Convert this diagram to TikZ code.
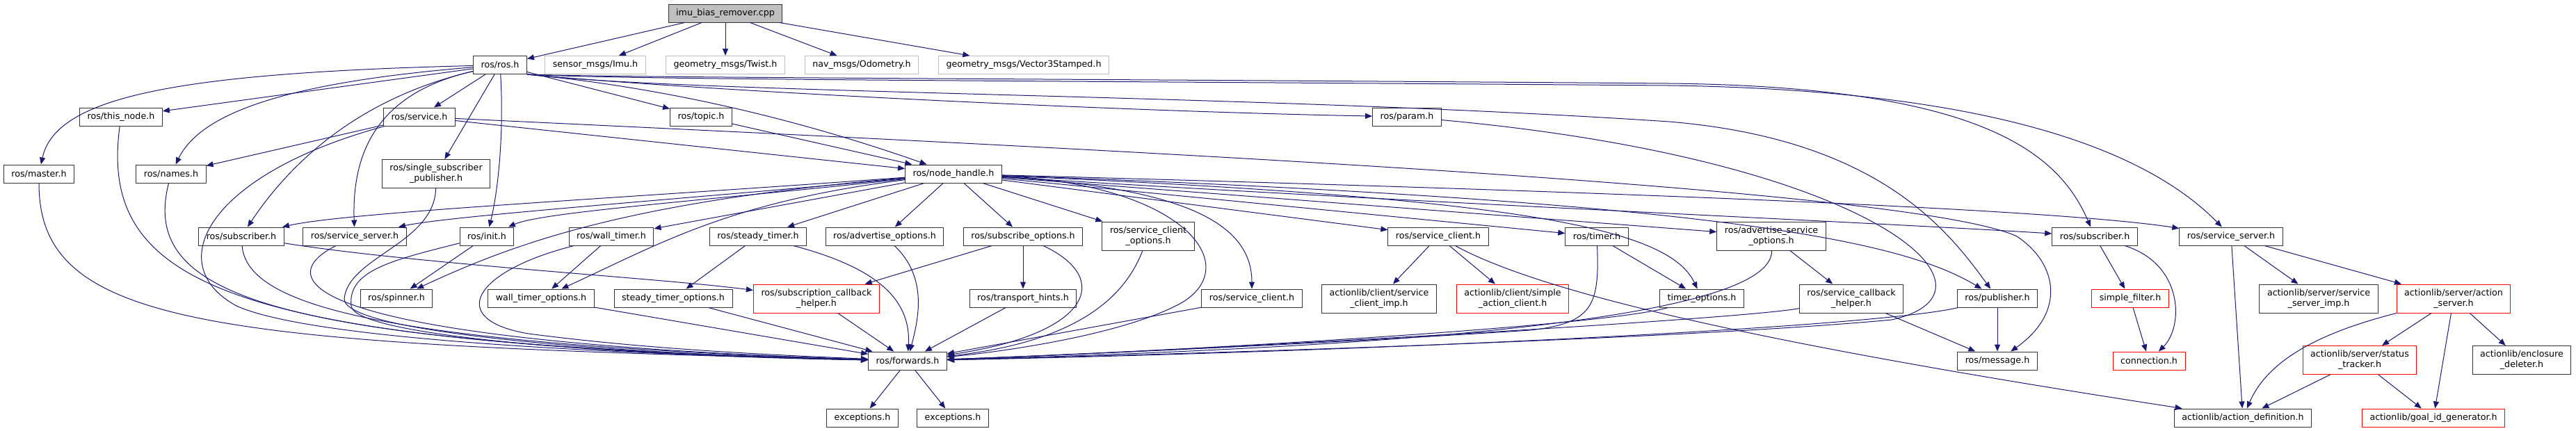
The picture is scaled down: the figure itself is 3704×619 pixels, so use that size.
\documentclass[tikz,border=0pt]{standalone}
\usepackage{fontspec}
\setmainfont{DejaVu Sans}
\usepackage{xcolor}
\usepackage{tikz}
\usetikzlibrary{arrows.meta,positioning}
\definecolor{edgeblue}{HTML}{191970}
\definecolor{extgray}{HTML}{BFBFBF}
\tikzset{
  hdr/.style={draw=black!80,line width=0.75pt,fill=white,inner xsep=8.3pt,inner ysep=0pt,
    minimum height=19.5pt,font=\fontsize{9.5}{11.25}\selectfont,align=center},
  hdrtwo/.style={hdr,minimum height=30.75pt},
  ext/.style={hdr,draw=extgray},
  trunc/.style={hdr,draw=red},
  trunctwo/.style={hdrtwo,draw=red},
  rootfile/.style={hdr,fill=extgray},
  dep/.style={draw=edgeblue,line width=0.75pt,-{Triangle[length=7.5pt,width=6pt]}},
}

\begin{document}
\begin{tikzpicture}[x=0.75pt,y=-0.75pt]
\useasboundingbox (0,0) rectangle (3704,619);
% Source file
\node[rootfile] (root) at (1043,19) {imu\_bias\_remover.cpp};
% Direct includes
\node[hdr] (rosros) at (719,93.5) {ros/ros.h};
\node[ext] (imu) at (856,93.5) {sensor\_msgs/Imu.h};
\node[ext] (twist) at (1043,93.5) {geometry\_msgs/Twist.h};
\node[ext] (odom) at (1239,93.5) {nav\_msgs/Odometry.h};
\node[ext] (vec3) at (1472,93.5) {geometry\_msgs/Vector3Stamped.h};
% Headers of ros/ros.h
\node[hdr] (thisnode) at (174,168) {ros/this\_node.h};
\node[hdr] (service) at (603,168) {ros/service.h};
\node[hdr] (topic) at (1008,168) {ros/topic.h};
\node[hdr] (param) at (2023,168) {ros/param.h};
\node[hdr] (master) at (56,250) {ros/master.h};
\node[hdr] (names) at (246,250) {ros/names.h};
\node[hdrtwo] (ssp) at (627,250) {ros/single\_subscriber\\\_publisher.h};
\node[hdr] (nh) at (1371,250) {ros/node\_handle.h};
% Headers of ros/node_handle.h
\node[hdr] (subL) at (347,340) {ros/subscriber.h};
\node[hdr] (ssL) at (510,340) {ros/service\_server.h};
\node[hdr] (init) at (700,340) {ros/init.h};
\node[hdr] (walltimer) at (879,340) {ros/wall\_timer.h};
\node[hdr] (steadytimer) at (1090,340) {ros/steady\_timer.h};
\node[hdr] (advopt) at (1272,340) {ros/advertise\_options.h};
\node[hdr] (subopt) at (1471,340) {ros/subscribe\_options.h};
\node[hdrtwo] (scopt) at (1651,339.5) {ros/service\_client\\\_options.h};
\node[hdr] (scR) at (2068,340) {ros/service\_client.h};
\node[hdr] (timer) at (2296,340) {ros/timer.h};
\node[hdrtwo] (asopt) at (2547,339.5) {ros/advertise\_service\\\_options.h};
\node[hdr] (subR) at (3012,340) {ros/subscriber.h};
\node[hdr] (ssR) at (3208,340) {ros/service\_server.h};
% Next level
\node[hdr] (spinner) at (570,429) {ros/spinner.h};
\node[hdr] (wtopt) at (778,429) {wall\_timer\_options.h};
\node[hdr] (stopt) at (968,429) {steady\_timer\_options.h};
\node[trunctwo] (sch) at (1174,429.5) {ros/subscription\_callback\\\_helper.h};
\node[hdr] (hints) at (1471,429) {ros/transport\_hints.h};
\node[hdr] (scL) at (1800,429) {ros/service\_client.h};
\node[hdrtwo] (scimp) at (1983,429.5) {actionlib/client/service\\\_client\_imp.h};
\node[trunctwo] (sac) at (2175,429.5) {actionlib/client/simple\\\_action\_client.h};
\node[hdr] (topt) at (2447,429) {timer\_options.h};
\node[hdrtwo] (sch2) at (2662,429.5) {ros/service\_callback\\\_helper.h};
\node[hdr] (pub) at (2872,429) {ros/publisher.h};
\node[trunc] (sfilter) at (3063,429) {simple\_filter.h};
\node[hdrtwo] (ssimp) at (3334,429.5) {actionlib/server/service\\\_server\_imp.h};
\node[trunctwo] (aserver) at (3528,429.5) {actionlib/server/action\\\_server.h};
% Bottom levels
\node[hdr] (fwd) at (1305,519) {ros/forwards.h};
\node[hdr] (msg) at (2872,519) {ros/message.h};
\node[trunc] (conn) at (3090,519) {connection.h};
\node[trunctwo] (strack) at (3393,518) {actionlib/server/status\\\_tracker.h};
\node[hdrtwo] (encdel) at (3626,518) {actionlib/enclosure\\\_deleter.h};
\node[hdr] (exca) at (1240,601) {exceptions.h};
\node[hdr] (excb) at (1370,601) {exceptions.h};
\node[hdr] (adef) at (3225,601) {actionlib/action\_definition.h};
\node[trunc] (goalid) at (3499,601) {actionlib/goal\_id\_generator.h};

% Includes of the source file
\draw[dep] (root) -- (rosros);
\draw[dep] (root) -- (imu);
\draw[dep] (root) -- (twist);
\draw[dep] (root) -- (odom);
\draw[dep] (root) -- (vec3);
% ros/ros.h
\draw[dep] (rosros) -- (thisnode);
\draw[dep] (rosros) .. controls (250,105) and (80,140) .. (master);
\draw[dep] (rosros) .. controls (420,118) and (290,160) .. (names);
\draw[dep] (rosros) .. controls (520,140) and (420,230) .. (subL);
\draw[dep] (rosros) .. controls (560,130) and (505,200) .. (ssL);
\draw[dep] (rosros) -- (service);
\draw[dep] (rosros) -- (ssp);
\draw[dep] (rosros) .. controls (725,200) and (715,280) .. (init);
\draw[dep] (rosros) -- (topic);
\draw[dep] (rosros.south east) .. controls (1000,130) and (1200,190) .. (nh);
\draw[dep] (rosros.south east) .. controls (1000,130) and (1600,160) .. (param);
\draw[dep] (rosros.south east) .. controls (1000,135) and (1800,135) .. (2400,175) .. controls (2700,200) and (2800,330) .. (pub);
\draw[dep] (rosros.south east) .. controls (900,112) and (1500,113) .. (2400,120) .. controls (2850,125) and (2960,220) .. (subR);
\draw[dep] (rosros.south east) .. controls (900,115) and (1500,116) .. (2400,123) .. controls (2900,130) and (3100,230) .. (ssR);
% ros/service.h, ros/topic.h
\draw[dep] (service) -- (names);
\draw[dep] (service) -- (nh);
\draw[dep] (service) .. controls (1600,215) and (2750,270) .. (2900,340) .. controls (2960,380) and (2970,450) .. (msg);
\draw[dep] (topic) -- (nh);
% ros/node_handle.h
\draw[dep] (nh) .. controls (900,285) and (500,305) .. (subL);
\draw[dep] (nh) .. controls (1000,285) and (650,310) .. (ssL);
\draw[dep] (nh) .. controls (1000,290) and (780,305) .. (init);
\draw[dep] (nh) .. controls (900,290) and (740,350) .. (spinner);
\draw[dep] (nh) -- (walltimer);
\draw[dep] (nh) .. controls (1050,290) and (950,350) .. (wtopt);
\draw[dep] (nh) -- (steadytimer);
\draw[dep] (nh) -- (advopt);
\draw[dep] (nh) -- (subopt);
\draw[dep] (nh) -- (scopt);
\draw[dep] (nh) .. controls (1700,270) and (1800,320) .. (scL);
\draw[dep] (nh) -- (scR);
\draw[dep] (nh) -- (timer);
\draw[dep] (nh) .. controls (2200,285) and (2400,330) .. (topt);
\draw[dep] (nh) -- (asopt);
\draw[dep] (nh) .. controls (2500,290) and (2740,350) .. (pub);
\draw[dep] (nh) .. controls (2000,290) and (2700,320) .. (subR);
\draw[dep] (nh) .. controls (2300,275) and (2950,300) .. (ssR);
% Everything that ends in ros/forwards.h
\draw[dep] (master) .. controls (56,470) and (300,495) .. (fwd);
\draw[dep] (thisnode) .. controls (140,420) and (350,495) .. (fwd);
\draw[dep] (names) .. controls (200,430) and (400,495) .. (fwd);
\draw[dep] (service) .. controls (300,250) and (230,380) .. (340,440) .. controls (450,490) and (900,510) .. (fwd);
\draw[dep] (subL) .. controls (355,440) and (550,495) .. (fwd);
\draw[dep] (ssL) .. controls (390,400) and (420,490) .. (fwd);
\draw[dep] (ssp) .. controls (625,350) and (500,370) .. (495,430) .. controls (495,480) and (900,510) .. (fwd);
\draw[dep] (init) .. controls (560,375) and (500,390) .. (505,440) .. controls (510,485) and (900,512) .. (fwd);
\draw[dep] (walltimer) .. controls (680,390) and (640,460) .. (760,480) .. controls (950,505) and (1150,512) .. (fwd);
\draw[dep] (wtopt) -- (fwd);
\draw[dep] (stopt) -- (fwd);
\draw[dep] (steadytimer) .. controls (1260,385) and (1310,430) .. (fwd);
\draw[dep] (sch) -- (fwd);
\draw[dep] (advopt) .. controls (1335,400) and (1320,460) .. (fwd);
\draw[dep] (subopt) .. controls (1600,400) and (1570,480) .. (fwd);
\draw[dep] (hints) -- (fwd);
\draw[dep] (scopt) .. controls (1620,420) and (1560,490) .. (fwd);
\draw[dep] (nh) .. controls (1700,265) and (1790,380) .. (1700,435) .. controls (1620,480) and (1450,505) .. (fwd);
\draw[dep] (scL) -- (fwd);
\draw[dep] (timer) .. controls (2300,440) and (2290,465) .. (2200,475) .. controls (1900,495) and (1500,512) .. (fwd);
\draw[dep] (topt) .. controls (2300,470) and (1700,505) .. (fwd);
\draw[dep] (asopt) .. controls (2550,460) and (2000,500) .. (fwd);
\draw[dep] (sch2) .. controls (2500,460) and (1700,505) .. (fwd);
\draw[dep] (pub) .. controls (2700,470) and (2000,505) .. (fwd);
\draw[dep] (param) .. controls (2700,230) and (2900,420) .. (2720,460) .. controls (2400,490) and (1600,512) .. (fwd);
% Remaining includes
\draw[dep] (subL) .. controls (600,380) and (950,400) .. (sch);
\draw[dep] (init) -- (spinner);
\draw[dep] (walltimer) -- (wtopt);
\draw[dep] (steadytimer) -- (stopt);
\draw[dep] (subopt) -- (sch);
\draw[dep] (subopt) -- (hints);
\draw[dep] (scR) -- (scimp);
\draw[dep] (scR) -- (sac);
\draw[dep] (scR) .. controls (2250,440) and (2700,520) .. (adef);
\draw[dep] (timer) -- (topt);
\draw[dep] (asopt) -- (sch2);
\draw[dep] (sch2) -- (msg);
\draw[dep] (pub) -- (msg);
\draw[dep] (subR) -- (sfilter);
\draw[dep] (subR) .. controls (3140,380) and (3140,470) .. (conn);
\draw[dep] (sfilter) -- (conn);
\draw[dep] (ssR) -- (adef);
\draw[dep] (ssR) -- (ssimp);
\draw[dep] (ssR) -- (aserver);
\draw[dep] (aserver) .. controls (3330,480) and (3260,520) .. (adef);
\draw[dep] (aserver) -- (strack);
\draw[dep] (aserver) -- (goalid);
\draw[dep] (aserver) -- (encdel);
\draw[dep] (strack) -- (adef);
\draw[dep] (strack) -- (goalid);
\draw[dep] (fwd) -- (exca);
\draw[dep] (fwd) -- (excb);
\end{tikzpicture}
\end{document}
